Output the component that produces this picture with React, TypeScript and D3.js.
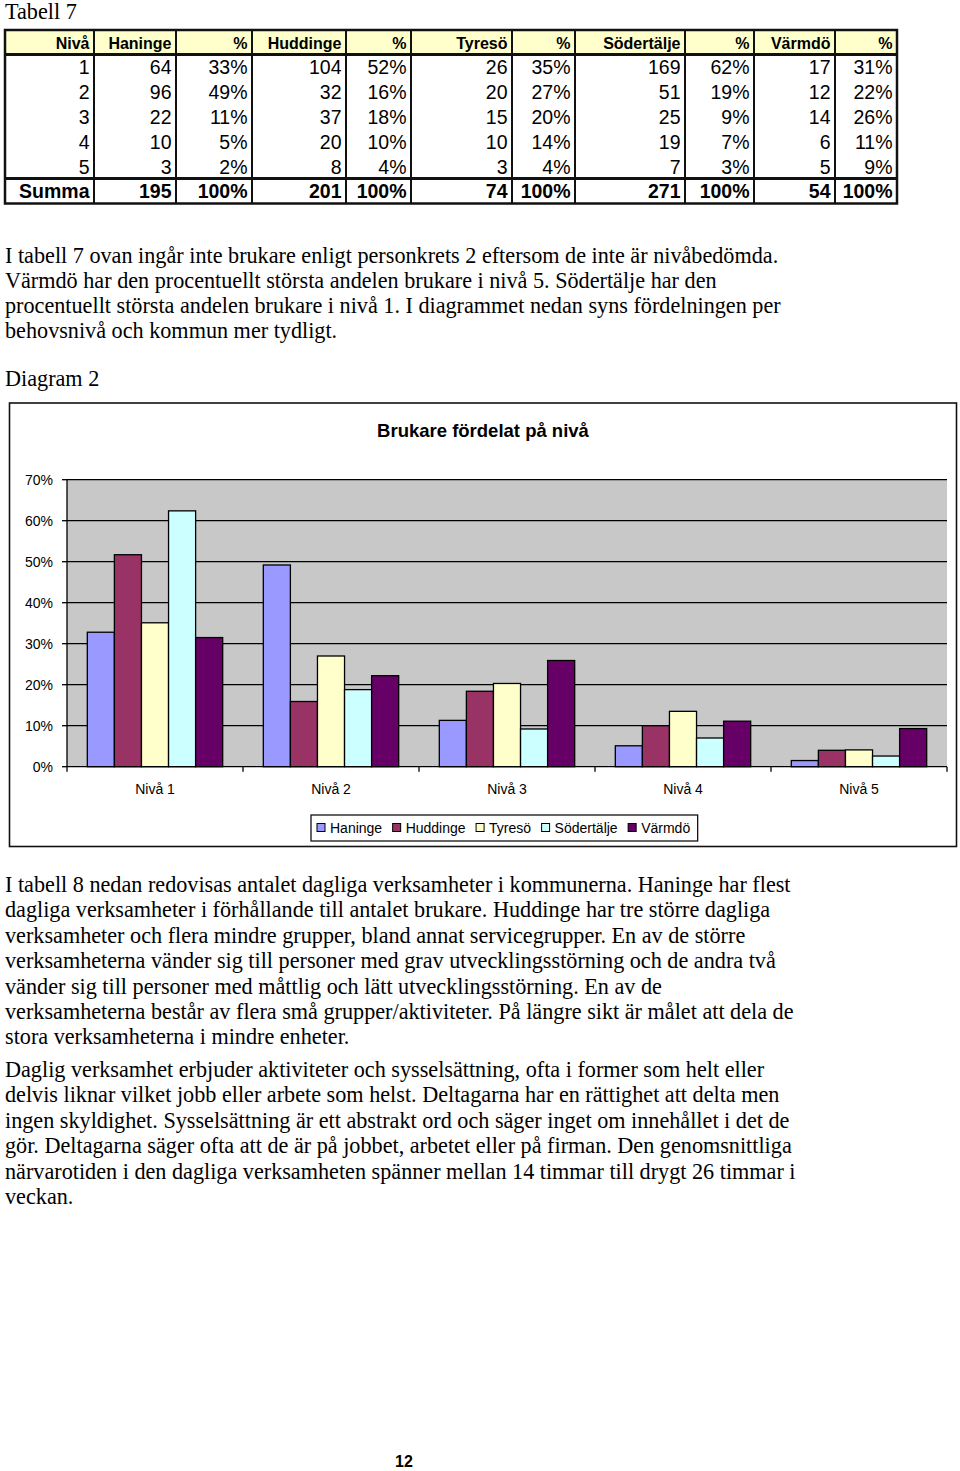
import * as d3 from "d3";
import React from "react";

// ---- data ----
const kommuner = ["Haninge", "Huddinge", "Tyresö", "Södertälje", "Värmdö"];
const nivaer = ["1", "2", "3", "4", "5"];
const nivaLabels = ["Nivå 1", "Nivå 2", "Nivå 3", "Nivå 4", "Nivå 5"];

// table: antal per nivå and percent per kommun
const haningeAntal = [64, 96, 22, 10, 3];
const haningePct = ["33%", "49%", "11%", "5%", "2%"];
const huddingeAntal = [104, 32, 37, 20, 8];
const huddingePct = ["52%", "16%", "18%", "10%", "4%"];
const tyresoAntal = [26, 20, 15, 10, 3];
const tyresoPct = ["35%", "27%", "20%", "14%", "4%"];
const sodertaljeAntal = [169, 51, 25, 19, 7];
const sodertaljePct = ["62%", "19%", "9%", "7%", "3%"];
const varmdoAntal = [17, 12, 14, 6, 5];
const varmdoPct = ["31%", "22%", "26%", "11%", "9%"];
const summaAntal = [195, 201, 74, 271, 54];
const summaPct = ["100%", "100%", "100%", "100%", "100%"];

// chart: share of brukare per nivå (%)
const haningeVal = [32.8, 49.2, 11.3, 5.1, 1.5];
const huddingeVal = [51.7, 15.9, 18.4, 10.0, 4.0];
const tyresoVal = [35.1, 27.0, 20.3, 13.5, 4.1];
const sodertaljeVal = [62.4, 18.8, 9.2, 7.0, 2.6];
const varmdoVal = [31.5, 22.2, 25.9, 11.1, 9.3];
const yTicks = [0, 10, 20, 30, 40, 50, 60, 70];

const colors = ["#9999FF", "#993366", "#FFFFCC", "#CCFFFF", "#660066"];

const para1 = [
  "I tabell 7 ovan ingår inte brukare enligt personkrets 2 eftersom de inte är nivåbedömda.",
  "Värmdö har den procentuellt största andelen brukare i nivå 5. Södertälje har den",
  "procentuellt största andelen brukare i nivå 1. I diagrammet nedan syns fördelningen per",
  "behovsnivå och kommun mer tydligt.",
];
const para2 = [
  "I tabell 8 nedan redovisas antalet dagliga verksamheter i kommunerna. Haninge har flest",
  "dagliga verksamheter i förhållande till antalet brukare. Huddinge har tre större dagliga",
  "verksamheter och flera mindre grupper, bland annat servicegrupper. En av de större",
  "verksamheterna vänder sig till personer med grav utvecklingsstörning och de andra två",
  "vänder sig till personer med måttlig och lätt utvecklingsstörning. En av de",
  "verksamheterna består av flera små grupper/aktiviteter. På längre sikt är målet att dela de",
  "stora verksamheterna i mindre enheter.",
];
const para3 = [
  "Daglig verksamhet erbjuder aktiviteter och sysselsättning, ofta i former som helt eller",
  "delvis liknar vilket jobb eller arbete som helst. Deltagarna har en rättighet att delta men",
  "ingen skyldighet. Sysselsättning är ett abstrakt ord och säger inget om innehållet i det de",
  "gör. Deltagarna säger ofta att de är på jobbet, arbetet eller på firman. Den genomsnittliga",
  "närvarotiden i den dagliga verksamheten spänner mellan 14 timmar till drygt 26 timmar i",
  "veckan.",
];

const serif = "'Liberation Serif', 'Times New Roman', serif";
const sans = "'Liberation Sans', Arial, sans-serif";
const bodySize = 22.2;

function measure(text: string, font: string) {
  const ctx = document.createElement("canvas").getContext("2d");
  if (!ctx) return text.length * 7;
  ctx.font = font;
  return ctx.measureText(text).width;
}

function Tabell() {
  const colEdges = [5, 94, 176, 252, 346, 411, 512, 575, 685, 754, 835, 897];
  const headers = ["Nivå"].concat(...kommuner.map((k) => [k, "%"]));
  const top = 30;
  const headH = 24.5;
  const rowH = 24.8;
  const bodyTop = top + headH;
  const summaTop = bodyTop + rowH * 5;
  const bottom = summaTop + 25;
  const antal = [haningeAntal, huddingeAntal, tyresoAntal, sodertaljeAntal, varmdoAntal];
  const pct = [haningePct, huddingePct, tyresoPct, sodertaljePct, varmdoPct];
  const rows = nivaer.map((n, i) =>
    [n].concat(...antal.map((a, k) => [String(a[i]), pct[k][i]]))
  );
  const summa = ["Summa"].concat(...summaAntal.map((s, k) => [String(s), summaPct[k]]));
  const pad = 4.5;
  return (
    <g>
      <rect x={colEdges[0]} y={top} width={colEdges[11] - colEdges[0]} height={headH} fill="#FFFFCC" />
      {headers.map((h, i) => (
        <text key={i} x={colEdges[i + 1] - pad} y={top + 19} textAnchor="end"
          fontFamily={sans} fontSize={16} fontWeight="bold">{h}</text>
      ))}
      {rows.map((r, j) =>
        r.map((c, i) => (
          <text key={j + "-" + i} x={colEdges[i + 1] - pad} y={bodyTop + rowH * j + 19.8}
            textAnchor="end" fontFamily={sans} fontSize={19.5}>{c}</text>
        ))
      )}
      {summa.map((c, i) => (
        <text key={"s" + i} x={colEdges[i + 1] - pad} y={summaTop + 19.5} textAnchor="end"
          fontFamily={sans} fontSize={19.5} fontWeight="bold">{c}</text>
      ))}
      {colEdges.slice(1, 11).map((x, i) => (
        <line key={"v" + i} x1={x} x2={x} y1={top} y2={bottom} stroke="#111" strokeWidth={2} />
      ))}
      <line x1={colEdges[0]} x2={colEdges[11]} y1={bodyTop} y2={bodyTop} stroke="#111" strokeWidth={3} />
      <line x1={colEdges[0]} x2={colEdges[11]} y1={summaTop} y2={summaTop} stroke="#111" strokeWidth={3} />
      <rect x={colEdges[0]} y={top} width={colEdges[11] - colEdges[0]} height={bottom - top}
        fill="none" stroke="#111" strokeWidth={2.5} />
    </g>
  );
}

function Diagram() {
  const frame = { x: 9.5, y: 403, w: 947, h: 443.5 };
  const plot = { left: 67, right: 947, top: 479.7, bottom: 766.7 };
  const series = [haningeVal, huddingeVal, tyresoVal, sodertaljeVal, varmdoVal];

  const x0 = d3.scaleBand<string>().domain(nivaLabels).range([plot.left, plot.right]).padding(0);
  const x1 = d3.scaleBand<string>().domain(kommuner).range([0, x0.bandwidth()])
    .paddingInner(0).paddingOuter(0.75);
  const y = d3.scaleLinear().domain([0, 70]).range([plot.bottom, plot.top]);

  const legendFont = "14px 'Liberation Sans', Arial, sans-serif";
  const legendBox = { x: 311, y: 815, h: 26 };
  let cx = legendBox.x + 6;
  const legendItems = kommuner.map((k, i) => {
    const item = { k, i, mx: cx, tx: cx + 13 };
    cx = item.tx + measure(k, legendFont) + 10.5;
    return item;
  });
  const legendW = cx - legendBox.x - 3;

  return (
    <g>
      <rect x={frame.x} y={frame.y} width={frame.w} height={frame.h} fill="#fff" stroke="#111" strokeWidth={1.6} />
      <text x={483} y={437} textAnchor="middle" fontFamily={sans} fontSize={18.5} fontWeight="bold">
        Brukare fördelat på nivå
      </text>
      <rect x={plot.left} y={plot.top} width={plot.right - plot.left} height={plot.bottom - plot.top} fill="#C8C8C8" />
      {yTicks.map((t) => (
        <g key={t}>
          {t > 0 && <line x1={plot.left} x2={plot.right} y1={y(t)} y2={y(t)} stroke="#000" strokeWidth={1.3} />}
          <line x1={plot.left - 5} x2={plot.left} y1={y(t)} y2={y(t)} stroke="#000" strokeWidth={1.3} />
          <text x={53} y={y(t) + 5} textAnchor="end" fontFamily={sans} fontSize={14}>{t + "%"}</text>
        </g>
      ))}
      {nivaLabels.map((n, c) => (
        <g key={n}>
          {kommuner.map((k, s) => (
            <rect key={k} x={(x0(n) ?? 0) + (x1(k) ?? 0)} y={y(series[s][c])}
              width={x1.bandwidth()} height={plot.bottom - y(series[s][c])}
              fill={colors[s]} stroke="#000" strokeWidth={1.3} />
          ))}
          <text x={(x0(n) ?? 0) + x0.bandwidth() / 2} y={794} textAnchor="middle"
            fontFamily={sans} fontSize={14}>{n}</text>
        </g>
      ))}
      {nivaLabels.concat([""]).map((n, c) => {
        const xt = plot.left + x0.step() * c;
        return <line key={"t" + c} x1={xt} x2={xt} y1={plot.bottom} y2={plot.bottom + 5} stroke="#000" strokeWidth={1.3} />;
      })}
      <line x1={plot.left} x2={plot.left} y1={plot.top} y2={plot.bottom} stroke="#000" strokeWidth={1.3} />
      <line x1={plot.left} x2={plot.right} y1={plot.bottom} y2={plot.bottom} stroke="#000" strokeWidth={1.3} />

      <rect x={legendBox.x} y={legendBox.y} width={legendW} height={legendBox.h} fill="#fff" stroke="#111" strokeWidth={1.3} />
      {legendItems.map((it) => (
        <g key={it.k}>
          <rect x={it.mx} y={823.5} width={8} height={8} fill={colors[it.i]} stroke="#000" strokeWidth={1} />
          <text x={it.tx} y={833} fontFamily={sans} fontSize={14}>{it.k}</text>
        </g>
      ))}
    </g>
  );
}

export default function App() {
  return (
    <svg width={960} height={1471} style={{ position: "absolute", left: 0, top: 0, background: "#fff" }}>
      <rect width={960} height={1471} fill="#fff" />
      <text x={5} y={19} fontFamily={serif} fontSize={bodySize}>Tabell 7</text>
      <Tabell />
      {para1.map((l, i) => (
        <text key={"p1" + i} x={5} y={263 + i * 25} fontFamily={serif} fontSize={bodySize}>{l}</text>
      ))}
      <text x={5} y={386} fontFamily={serif} fontSize={bodySize}>Diagram 2</text>
      <Diagram />
      {para2.map((l, i) => (
        <text key={"p2" + i} x={5} y={892 + i * 25.4} fontFamily={serif} fontSize={bodySize}>{l}</text>
      ))}
      {para3.map((l, i) => (
        <text key={"p3" + i} x={5} y={1077 + i * 25.4} fontFamily={serif} fontSize={bodySize}>{l}</text>
      ))}
      <text x={404} y={1467} textAnchor="middle" fontFamily={sans} fontSize={16} fontWeight="bold">12</text>
    </svg>
  );
}
